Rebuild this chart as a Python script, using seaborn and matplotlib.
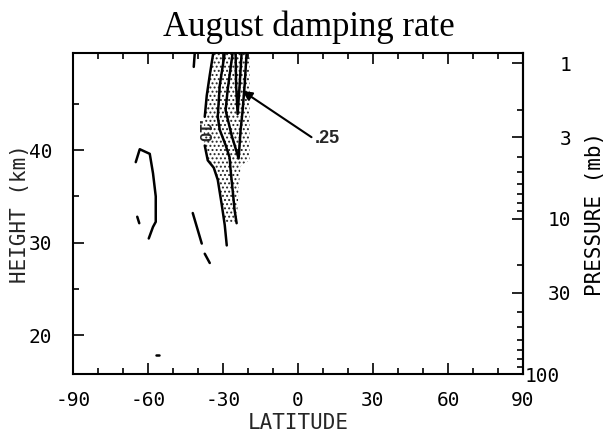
import numpy as np
import pandas as pd
import seaborn as sns
import matplotlib
matplotlib.use("Agg")
import matplotlib.pyplot as plt
from matplotlib.transforms import ScaledTranslation

# ---------------- data ----------------
title = "August damping rate"
x_ticks = [-90, -60, -30, 0, 30, 60, 90]
y_ticks = [20, 30, 40]
p_ticks = [1, 3, 10, 30, 100]
p_minor = [2, 4, 5, 6, 7, 8, 9, 20, 40, 50, 60, 70, 80, 90]

c10_upper_lat = [-33.9, -35.3, -36.5, -37.3]
c10_upper_z = [50.5, 48.1, 45.9, 43.6]
c10_lower_lat = [-37.3, -36.1, -33.7, -32.1, -30.5, -29.3, -28.5]
c10_lower_z = [40.5, 38.9, 38.1, 36.8, 34.1, 31.9, 29.7]

cmid_lat = [-29.3, -31.3, -32.1, -31.3, -28.9, -27.35, -26.95, -26.15, -25.35, -24.55]
cmid_z = [50.5, 47.0, 43.6, 42.2, 40.5, 39.2, 37.8, 35.7, 33.5, 32.1]

couter_lat = [-26.15, -28.15, -28.95, -26.55, -23.75, -22.95, -22.15, -21.35, -20.55]
couter_z = [50.5, 46.5, 44.3, 41.6, 39.1, 42.2, 44.3, 47.0, 50.5]

cinner_lat = [-24.95, -24.75, -24.15, -23.35, -22.55]
cinner_z = [50.5, 47.0, 43.9, 47.0, 50.5]

csouth_lat = [-64.9, -63.3, -59.3, -58.0, -56.9, -56.9, -58.0, -59.7]
csouth_z = [38.7, 40.1, 39.6, 37.5, 35.0, 32.25, 31.7, 30.45]
csouth_dash_lat = [-64.3, -63.5]
csouth_dash_z = [32.8, 32.1]
c40_lat = [-42.1, -38.5]
c40_z = [33.2, 29.9]
c40_dash_lat = [-37.3, -35.3]
c40_dash_z = [28.8, 27.8]
ctop_dash_lat = [-41.3, -41.7]
ctop_dash_z = [50.5, 49.0]
clow_dash_lat = [-56.8, -55.8]
clow_dash_z = [17.8, 17.8]

stip_lat = [-33.9, -35.3, -36.5, -37.3, -37.7, -37.3, -36.1, -33.7, -32.1, -30.5, -29.4,
            -24.55, -23.75, -22.95, -19.4, -19.4]
stip_z = [50.5, 48.1, 45.9, 43.6, 42.0, 40.5, 38.9, 38.1, 36.8, 34.1, 32.1,
          32.1, 35.7, 38.3, 38.9, 50.5]

label10 = (".10", -38.3, 42.05)
arrow_tip = (-22.2, 46.4)
arrow_tail = (5.4, 41.4)
label25 = (".25", 6.6, 41.3)

# ---------------- figure ----------------
sns.set_theme(style="ticks")
plt.rcParams["font.family"] = ["DejaVu Sans Mono", "DejaVu Sans"]
plt.rcParams["hatch.linewidth"] = 0.9

fig = plt.figure(figsize=(6.05, 4.34), dpi=100)
ax = fig.add_axes([73 / 605, 1 - 374 / 434, 450 / 605, 321 / 434])

ax.fill(stip_lat, stip_z, facecolor="none", edgecolor="0.15", hatch="....", linewidth=0)

lines = [
    (c10_upper_lat, c10_upper_z), (c10_lower_lat, c10_lower_z),
    (cmid_lat, cmid_z), (couter_lat, couter_z), (cinner_lat, cinner_z),
    (csouth_lat, csouth_z), (csouth_dash_lat, csouth_dash_z),
    (c40_lat, c40_z), (c40_dash_lat, c40_dash_z),
    (ctop_dash_lat, ctop_dash_z), (clow_dash_lat, clow_dash_z),
]
for la, zz in lines:
    df = pd.DataFrame({"lat": la, "z": zz})
    sns.lineplot(data=df, x="lat", y="z", sort=False, estimator=None,
                 color="black", linewidth=1.8, ax=ax)

ax.text(label10[1], label10[2], label10[0], rotation=-90, ha="center", va="center",
        fontsize=12, fontfamily="Liberation Sans", fontweight="bold")
ax.annotate("", xy=arrow_tip, xytext=arrow_tail,
            arrowprops=dict(arrowstyle="-|>", lw=1.5, color="black",
                            mutation_scale=14, shrinkA=0, shrinkB=0))
ax.text(label25[1], label25[2], label25[0], ha="left", va="center",
        fontsize=13, fontfamily="Liberation Sans", fontweight="bold")

Z0, H = 15.8, 7.3
ax.set_xlim(-90, 90)
ax.set_ylim(Z0, 50.5)
ax.set_xticks(x_ticks)
ax.set_xticklabels([str(v) for v in x_ticks])
ax.set_xticks(np.arange(-80, 90, 10), minor=True)
ax.set_yticks(y_ticks)
ax.set_yticks([25, 35, 45], minor=True)
ax.set_xlabel("LATITUDE", fontsize=15)
ax.set_ylabel("HEIGHT (km)", fontsize=15)
ax.yaxis.set_label_coords(-0.095, 0.5)
ax.xaxis.set_label_coords(0.5, -0.122)

ax.tick_params(which="both", direction="in", top=True, right=False, width=1.2, color="black",
               labelsize=14, labelcolor="black")
ax.tick_params(which="major", length=8)
ax.tick_params(axis="x", which="major", pad=12)
ax.tick_params(axis="y", which="major", pad=15)
ax.tick_params(which="minor", length=4)
for s in ax.spines.values():
    s.set_linewidth(1.5)
    s.set_color("black")


def z2p(z):
    return 100.0 * np.exp(-(np.asarray(z) - Z0) / H)


def p2z(p):
    return Z0 + H * np.log(100.0 / np.asarray(p))


sec = ax.secondary_yaxis("right", functions=(z2p, p2z))
sec.set_yticks(p_ticks)
sec.set_yticklabels([str(v) for v in p_ticks])
sec.set_yticks(p_minor, minor=True)
sec.tick_params(which="both", direction="in", width=1.2, color="black",
                labelsize=14, labelcolor="black")
sec.tick_params(which="major", length=8, pad=35)
sec.tick_params(which="minor", length=4, labelright=False)
sec.spines["right"].set_linewidth(1.5)
sec.set_ylabel("PRESSURE (mb)", fontsize=15, color="black")
sec.yaxis.set_label_coords(1.138, 0.5, transform=ax.transAxes)
for lab in sec.get_yticklabels():
    lab.set_horizontalalignment("right")
    if lab.get_text() == "100":
        lab.set_transform(lab.get_transform() +
                          ScaledTranslation(-12 / 100, 0, fig.dpi_scale_trans))

fig.text(0.511, 0.937, title, ha="center", va="center", fontsize=25,
         fontfamily="Liberation Serif", color="black")

fig.savefig("out.png", dpi=100)
